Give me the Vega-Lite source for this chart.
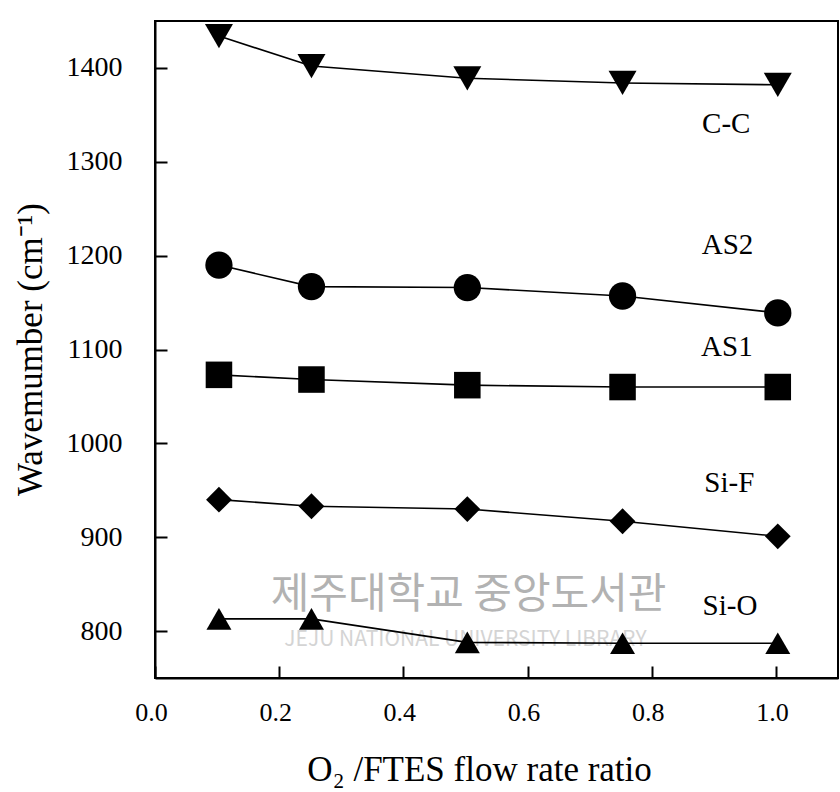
{
  "$schema": "https://vega.github.io/schema/vega-lite/v6.json",
  "autosize": "none",
  "padding": {"left": 155, "top": 21, "right": 2, "bottom": 114},
  "width": 683,
  "height": 657,
  "background": "white",
  "config": {
    "font": "Liberation Serif",
    "view": {"stroke": "black", "strokeWidth": 2},
    "axis": {
      "grid": false,
      "domainColor": "black",
      "domainWidth": 2,
      "tickColor": "black",
      "tickWidth": 2,
      "tickSize": -12,
      "labelFlush": false,
      "labelColor": "black",
      "labelFont": "Liberation Serif",
      "titleFont": "Liberation Serif",
      "titleFontWeight": "normal",
      "titleColor": "black"
    }
  },
  "datasets": {
    "bands": [
      {"ratio": 0.103, "wavenumber": 1434, "band": "C-C"},
      {"ratio": 0.252, "wavenumber": 1402, "band": "C-C"},
      {"ratio": 0.503, "wavenumber": 1389, "band": "C-C"},
      {"ratio": 0.753, "wavenumber": 1384, "band": "C-C"},
      {"ratio": 1.003, "wavenumber": 1382, "band": "C-C"},
      {"ratio": 0.103, "wavenumber": 1190, "band": "AS2"},
      {"ratio": 0.252, "wavenumber": 1167, "band": "AS2"},
      {"ratio": 0.503, "wavenumber": 1166, "band": "AS2"},
      {"ratio": 0.753, "wavenumber": 1157, "band": "AS2"},
      {"ratio": 1.003, "wavenumber": 1139, "band": "AS2"},
      {"ratio": 0.103, "wavenumber": 1073, "band": "AS1"},
      {"ratio": 0.252, "wavenumber": 1068, "band": "AS1"},
      {"ratio": 0.503, "wavenumber": 1062, "band": "AS1"},
      {"ratio": 0.753, "wavenumber": 1060, "band": "AS1"},
      {"ratio": 1.003, "wavenumber": 1060, "band": "AS1"},
      {"ratio": 0.103, "wavenumber": 940, "band": "Si-F"},
      {"ratio": 0.252, "wavenumber": 933, "band": "Si-F"},
      {"ratio": 0.503, "wavenumber": 930, "band": "Si-F"},
      {"ratio": 0.753, "wavenumber": 917, "band": "Si-F"},
      {"ratio": 1.003, "wavenumber": 901, "band": "Si-F"},
      {"ratio": 0.103, "wavenumber": 813, "band": "Si-O"},
      {"ratio": 0.252, "wavenumber": 813, "band": "Si-O"},
      {"ratio": 0.503, "wavenumber": 788, "band": "Si-O"},
      {"ratio": 0.753, "wavenumber": 787, "band": "Si-O"},
      {"ratio": 1.003, "wavenumber": 787, "band": "Si-O"}
    ],
    "bandLabels": [
      {"ratio": 0.92, "wavenumber": 1340, "band": "C-C"},
      {"ratio": 0.922, "wavenumber": 1211, "band": "AS2"},
      {"ratio": 0.921, "wavenumber": 1103, "band": "AS1"},
      {"ratio": 0.925, "wavenumber": 958, "band": "Si-F"},
      {"ratio": 0.926, "wavenumber": 827, "band": "Si-O"}
    ],
    "stampKo": [
      {"ratio": 0.505, "wavenumber": 838, "text": "제주대학교 중앙도서관"}
    ],
    "stampEn": [
      {"ratio": 0.5, "wavenumber": 791, "text": "JEJU NATIONAL UNIVERSITY LIBRARY"}
    ]
  },
  "layer": [
    {
      "data": {"name": "stampKo"},
      "mark": {"type": "text", "font": "Noto Sans CJK KR", "fontSize": 42, "color": "#b2b2b2", "align": "center", "baseline": "middle"},
      "encoding": {
        "x": {"field": "ratio", "type": "quantitative", "scale": {"domain": [0, 1.1]}},
        "y": {"field": "wavenumber", "type": "quantitative", "scale": {"domain": [750, 1450]}},
        "text": {"field": "text"}
      }
    },
    {
      "data": {"name": "stampEn"},
      "mark": {"type": "text", "font": "Noto Sans CJK KR", "fontSize": 21, "color": "#d4d4d4", "align": "center", "baseline": "middle"},
      "encoding": {
        "x": {"field": "ratio", "type": "quantitative"},
        "y": {"field": "wavenumber", "type": "quantitative"},
        "text": {"field": "text"}
      }
    },
    {
      "data": {"name": "bands"},
      "mark": {"type": "line", "color": "black", "strokeWidth": 1.6},
      "encoding": {
        "x": {
          "field": "ratio", "type": "quantitative",
          "scale": {"domain": [0, 1.1], "nice": false},
          "axis": {
            "values": [0, 0.2, 0.4, 0.6, 0.8, 1.0],
            "format": ".1f",
            "labelFontSize": 26,
            "labelPadding": 33,
            "labelOffset": -4,
            "title": "O₂ /FTES flow rate ratio",
            "titleFontSize": 35,
            "titleX": 324,
            "titleY": 91,
            "titleAlign": "center",
            "titleBaseline": "middle"
          }
        },
        "y": {
          "field": "wavenumber", "type": "quantitative",
          "scale": {"domain": [750, 1450], "nice": false},
          "axis": {
            "values": [800, 900, 1000, 1100, 1200, 1300, 1400],
            "format": "d",
            "labelFontSize": 28,
            "labelPadding": 45,
            "title": "Wavemumber (cm⁻¹)",
            "titleFontSize": 35,
            "titleX": -125,
            "titleY": 328,
            "titleAngle": -90,
            "titleAlign": "center",
            "titleBaseline": "middle"
          }
        },
        "detail": {"field": "band", "type": "nominal"}
      }
    },
    {
      "data": {"name": "bands"},
      "mark": {"type": "point", "filled": true, "color": "black", "opacity": 1},
      "encoding": {
        "x": {"field": "ratio", "type": "quantitative"},
        "y": {"field": "wavenumber", "type": "quantitative"},
        "shape": {
          "field": "band", "type": "nominal",
          "scale": {
            "domain": ["C-C", "AS2", "AS1", "Si-F", "Si-O"],
            "range": ["triangle-down", "circle", "square", "diamond", "triangle-up"]
          },
          "legend": null
        },
        "size": {
          "field": "band", "type": "nominal",
          "scale": {
            "domain": ["C-C", "AS2", "AS1", "Si-F", "Si-O"],
            "range": [784, 625, 529, 841, 784]
          },
          "legend": null
        }
      }
    },
    {
      "data": {"name": "bandLabels"},
      "mark": {"type": "text", "fontSize": 29, "color": "black", "align": "center", "baseline": "middle"},
      "encoding": {
        "x": {"field": "ratio", "type": "quantitative"},
        "y": {"field": "wavenumber", "type": "quantitative"},
        "text": {"field": "band"}
      }
    }
  ]
}
